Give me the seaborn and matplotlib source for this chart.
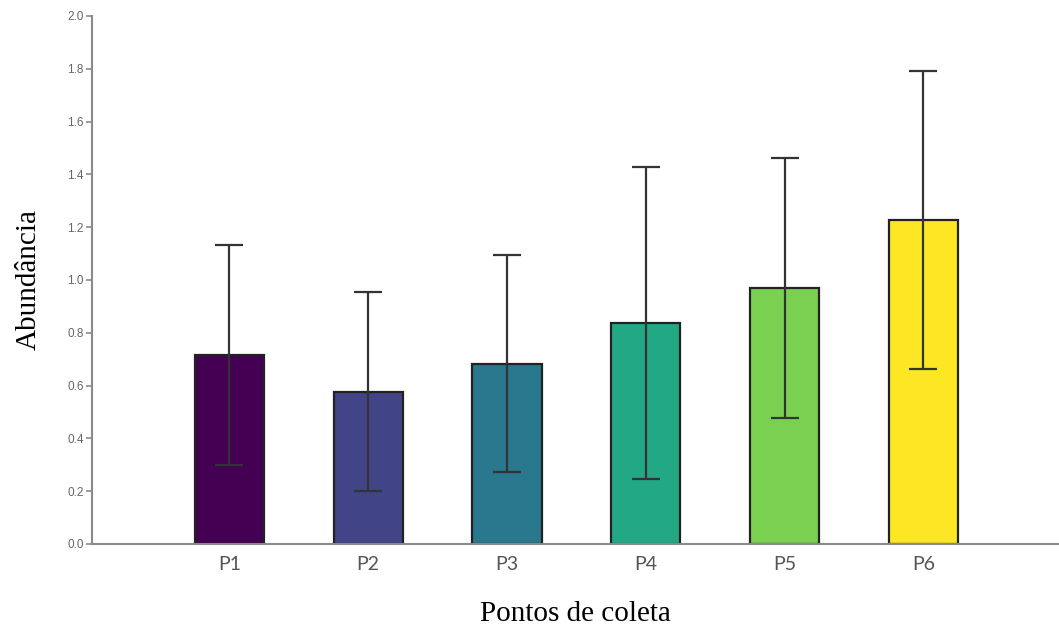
import numpy as np
import seaborn as sns
import matplotlib.pyplot as plt

# data
points = ['P1', 'P2', 'P3', 'P4', 'P5', 'P6']
means = [0.716, 0.577, 0.683, 0.837, 0.971, 1.227]
sds = [0.415, 0.378, 0.411, 0.590, 0.492, 0.566]
colors = ['#440154', '#414487', '#2a788e', '#22a884', '#7ad151', '#fde725']

sns.set_style('white')

fig = plt.figure(figsize=(10.59, 6.3), dpi=100)
ax = fig.add_axes([92 / 1059, 1 - 544 / 630, 966 / 1059, 528 / 630])

sns.barplot(x=points, y=means, hue=points, palette=colors, legend=False,
            saturation=1, width=0.5, edgecolor='#222222', linewidth=1.6, ax=ax)

ax.errorbar(np.arange(len(points)), means, yerr=sds, fmt='none',
            ecolor='#333333', elinewidth=1.6, capsize=10, capthick=1.6)

ax.set_xlim(-0.99, 5.97)
ax.set_ylim(0, 2.0)
ax.set_yticks(np.arange(0, 2.01, 0.2))
ax.set_yticklabels([f'{v:.1f}' for v in np.arange(0, 2.01, 0.2)])

sns.despine(ax=ax)
for side in ['left', 'bottom']:
    ax.spines[side].set_color('#8a8a8a')
    ax.spines[side].set_linewidth(1.5)

ax.tick_params(axis='y', length=4, width=1.2, color='#8a8a8a',
               labelsize=8.5, labelcolor='#666666', pad=2, left=True)
ax.tick_params(axis='x', length=0, labelsize=14, labelcolor='#555555', pad=9)
for lab in ax.get_xticklabels():
    lab.set_family('Lato')
for lab in ax.get_yticklabels():
    lab.set_family('Liberation Sans')

ax.set_xlabel('Pontos de coleta', family='Liberation Serif', fontsize=21,
              color='black', labelpad=20)
ax.set_ylabel('Abundância', family='Liberation Serif', fontsize=21,
              color='black', labelpad=18)

fig.savefig('out.png', dpi=100)
